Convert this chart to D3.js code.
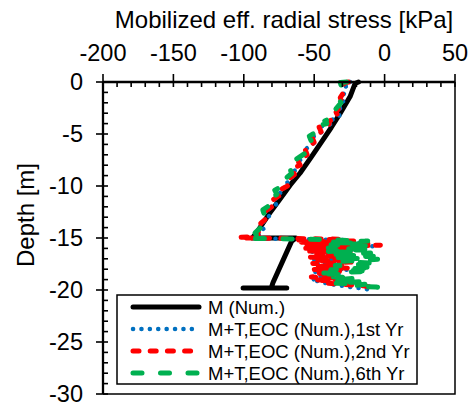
<!DOCTYPE html>
<html>
<head>
<meta charset="utf-8">
<script src="https://cdn.jsdelivr.net/npm/d3@7"></script>
<style>
  html, body { margin: 0; padding: 0; background: #fff; }
  svg { display: block; }
  text { font-family: "Liberation Sans", Arial, sans-serif; fill: #000; }
</style>
</head>
<body>
<script>
// Axis ticks
const stressTicks = [-200, -150, -100, -50, 0, 50];
const depthTicks = [0, -5, -10, -15, -20, -25, -30];

// M (Num.)
const stressM = [-18.5, -21, -24.5, -31.5, -38, -45, -52, -60, -67, -74, -80.5, -86.5, -91, -94, -63, -66, -68, -79.3, -80.5, -69.5, -100.5];
const depthM  = [0, -0.15, -1.4, -3, -4.4, -5.8, -7.2, -8.75, -9.9, -11.2, -12.4, -13.6, -14.5, -15.0, -15.0, -15.3, -15.9, -19.3, -19.8, -19.8, -19.8];

// M+T,EOC (Num.),1st Yr
const stressYr1 = [-24.5, -28, -27, -30.5, -29, -33.5, -32, -39.5, -38, -45.5, -44, -50.5, -49, -55.5, -54, -60.5, -59, -64.5, -63, -69.5, -68, -75, -73.5, -79, -77, -83.5, -82, -87, -85.5, -90, -88.5, -94, -90,
  -60, -28, -58, -18, -55, -8, -48, -22, -54, -28, -48, -26, -50, -22, -48, -28, -46, -26, -50, -32, -48, -36, -52, -40, -25, -8];
const depthYr1  = [0, -0.1, -0.75, -1.45, -2.05, -2.85, -3.25, -3.8, -4.05, -4.3, -4.75, -5.25, -5.75, -6.4, -6.95, -7.55, -7.95, -8.25, -8.85, -9.55, -9.95, -10.45, -10.85, -11.35, -11.75, -12.35, -12.95, -13.55, -14.05, -14.55, -14.85, -15.0, -15.05,
  -15.1, -15.2, -15.35, -15.5, -15.65, -15.8, -15.95, -16.1, -16.3, -16.5, -16.7, -16.9, -17.1, -17.3, -17.5, -17.7, -17.9, -18.05, -18.25, -18.45, -18.65, -18.8, -19.0, -19.4, -19.7, -20.0];

// M+T,EOC (Num.),2nd Yr
const stressYr2 = [-25.5, -29, -28, -31.5, -30, -34.5, -33, -40.5, -39, -46.5, -45, -51.5, -50, -56.5, -55, -61.5, -60, -65.5, -64, -70.5, -69, -76, -74.5, -80, -78, -84.5, -83, -88, -86.5, -91, -89.5, -104, -98,
  -62, -30, -61, -22, -60, -8, -58, -3, -55, -20, -57, -28, -54, -24, -52, -30, -53, -26, -50, -22, -51, -30, -49, -26, -52, -32, -50, -36, -52, -30, -50, -24, -40, -15, -5];
const depthYr2  = [0, -0.1, -0.8, -1.5, -2.1, -2.9, -3.3, -3.85, -4.1, -4.35, -4.8, -5.3, -5.8, -6.45, -7.0, -7.6, -8.0, -8.3, -8.9, -9.6, -10.0, -10.5, -10.9, -11.4, -11.8, -12.4, -13.0, -13.6, -14.1, -14.6, -14.85, -14.95, -15.0,
  -15.05, -15.12, -15.2, -15.3, -15.4, -15.5, -15.58, -15.7, -15.8, -15.9, -16.0, -16.1, -16.25, -16.4, -16.55, -16.7, -16.85, -17.0, -17.15, -17.3, -17.45, -17.6, -17.75, -17.9, -18.05, -18.2, -18.4, -18.55, -18.75, -18.9, -19.05, -19.2, -19.35, -19.6, -19.85];

// M+T,EOC (Num.),6th Yr
const stressYr6 = [-27, -31.5, -30, -33, -31, -36, -34.5, -42.5, -41, -48.5, -47, -53.5, -52, -58.5, -57, -63.5, -62, -67.5, -66, -72.5, -71, -78, -76.5, -82, -80, -86.5, -85, -89.5, -88, -92, -90.5, -97, -93,
  -55, -12, -40, -14, -38, -8, -40, -10, -42, -10, -38, -8, -36, -5, -30, -5, -35, -7, -38, -10, -48, -32, -40, -20, -38, -16, -36, -14, -22, -6, 0];
const depthYr6  = [0, -0.05, -0.7, -1.4, -2.0, -2.8, -3.2, -3.75, -4.0, -4.25, -4.7, -5.2, -5.7, -6.35, -6.9, -7.5, -7.9, -8.2, -8.8, -9.5, -9.9, -10.4, -10.8, -11.3, -11.7, -12.3, -12.9, -13.5, -14.0, -14.5, -14.8, -15.0, -15.05,
  -15.1, -15.3, -15.4, -15.55, -15.65, -15.8, -15.95, -16.1, -16.3, -16.45, -16.6, -16.75, -16.9, -17.05, -17.25, -17.45, -17.65, -17.85, -18.05, -18.2, -18.4, -18.5, -18.7, -18.85, -19.05, -19.2, -19.35, -19.45, -19.6, -19.72, -19.85];

const seriesNames = ["M (Num.)", "M+T,EOC (Num.),1st Yr", "M+T,EOC (Num.),2nd Yr", "M+T,EOC (Num.),6th Yr"];
const seriesColors = ["#000000", "#0070C0", "#FF0000", "#00B050"];

const series = [
  { name: seriesNames[0], color: seriesColors[0], width: 5, dash: null, x: stressM, y: depthM },
  { name: seriesNames[1], color: seriesColors[1], width: 4.5, dash: "0.1,8.3", x: stressYr1, y: depthYr1 },
  { name: seriesNames[2], color: seriesColors[2], width: 5, dash: "6,11.2", x: stressYr2, y: depthYr2 },
  { name: seriesNames[3], color: seriesColors[3], width: 5, dash: "9,18.5", x: stressYr6, y: depthYr6 }
];

const W = 473, H = 405;
const plotL = 103, plotR = 455, plotT = 82, plotB = 394;

const svg = d3.select("body").append("svg").attr("width", W).attr("height", H);

const x = d3.scaleLinear().domain([-200, 50]).range([plotL, plotR]);
const y = d3.scaleLinear().domain([0, -30]).range([plotT, plotB]);

// plot frame (right and bottom)
svg.append("path")
  .attr("d", `M${plotR},${plotT}V${plotB}H${plotL}`)
  .attr("fill", "none").attr("stroke", "#000").attr("stroke-width", 1.5);

// series
const line = d3.line();
series.forEach(s => {
  const pts = s.x.map((v, i) => [x(v), y(s.y[i])]);
  svg.append("path")
    .attr("d", line(pts))
    .attr("fill", "none")
    .attr("stroke", s.color)
    .attr("stroke-width", s.width)
    .attr("stroke-linecap", "round")
    .attr("stroke-linejoin", "round")
    .attr("stroke-dasharray", s.dash);
});

// top (stress) axis
const xAxis = svg.append("g");
xAxis.append("line").attr("x1", plotL).attr("x2", plotR).attr("y1", plotT).attr("y2", plotT)
  .attr("stroke", "#000").attr("stroke-width", 2.3);
xAxis.selectAll("line.minor").data(d3.range(-190, 50, 10).filter(v => v % 50 !== 0)).join("line")
  .attr("class", "minor")
  .attr("x1", d => x(d)).attr("x2", d => x(d)).attr("y1", plotT).attr("y2", plotT + 5)
  .attr("stroke", "#000").attr("stroke-width", 1.6);
xAxis.selectAll("line.major").data(stressTicks).join("line")
  .attr("class", "major")
  .attr("x1", d => x(d)).attr("x2", d => x(d)).attr("y1", plotT - 8).attr("y2", plotT + 5)
  .attr("stroke", "#000").attr("stroke-width", 1.6);
xAxis.selectAll("text").data(stressTicks).join("text")
  .attr("x", d => x(d)).attr("y", 61)
  .attr("text-anchor", "middle")
  .style("font-size", "23.5px")
  .text(d => d);

// left (depth) axis
const yAxis = svg.append("g");
yAxis.append("line").attr("x1", plotL).attr("x2", plotL).attr("y1", plotT).attr("y2", plotB)
  .attr("stroke", "#000").attr("stroke-width", 2.3);
yAxis.selectAll("line.minor").data(d3.range(-1, -30, -1).filter(v => v % 5 !== 0)).join("line")
  .attr("class", "minor")
  .attr("x1", plotL).attr("x2", plotL + 5).attr("y1", d => y(d)).attr("y2", d => y(d))
  .attr("stroke", "#000").attr("stroke-width", 1.6);
yAxis.selectAll("line.major").data(depthTicks).join("line")
  .attr("class", "major")
  .attr("x1", plotL - 7).attr("x2", plotL + 5).attr("y1", d => y(d)).attr("y2", d => y(d))
  .attr("stroke", "#000").attr("stroke-width", 1.6);
yAxis.selectAll("text").data(depthTicks).join("text")
  .attr("x", 83).attr("y", d => y(d)).attr("dy", "0.36em")
  .attr("text-anchor", "end")
  .style("font-size", "23.5px")
  .text(d => d);

// axis titles
svg.append("text")
  .attr("x", 284).attr("y", 28)
  .attr("text-anchor", "middle")
  .style("font-size", "24px")
  .text("Mobilized eff. radial stress [kPa]");
svg.append("text")
  .attr("transform", "translate(34,215) rotate(-90)")
  .attr("text-anchor", "middle")
  .style("font-size", "24px")
  .text("Depth [m]");

// legend
const lg = svg.append("g");
lg.append("rect").attr("x", 117).attr("y", 295).attr("width", 300).attr("height", 89)
  .attr("fill", "#fff").attr("stroke", "#000").attr("stroke-width", 1.5);
series.forEach((s, i) => {
  const cy = 307 + i * 22;
  lg.append("line").attr("x1", 133).attr("x2", 199).attr("y1", cy).attr("y2", cy)
    .attr("stroke", s.color).attr("stroke-width", s.width)
    .attr("stroke-linecap", "round").attr("stroke-dasharray", s.dash);
  lg.append("text").attr("x", 208).attr("y", cy).attr("dy", "0.36em")
    .style("font-size", "18.5px")
    .text(s.name);
});
</script>
</body>
</html>
